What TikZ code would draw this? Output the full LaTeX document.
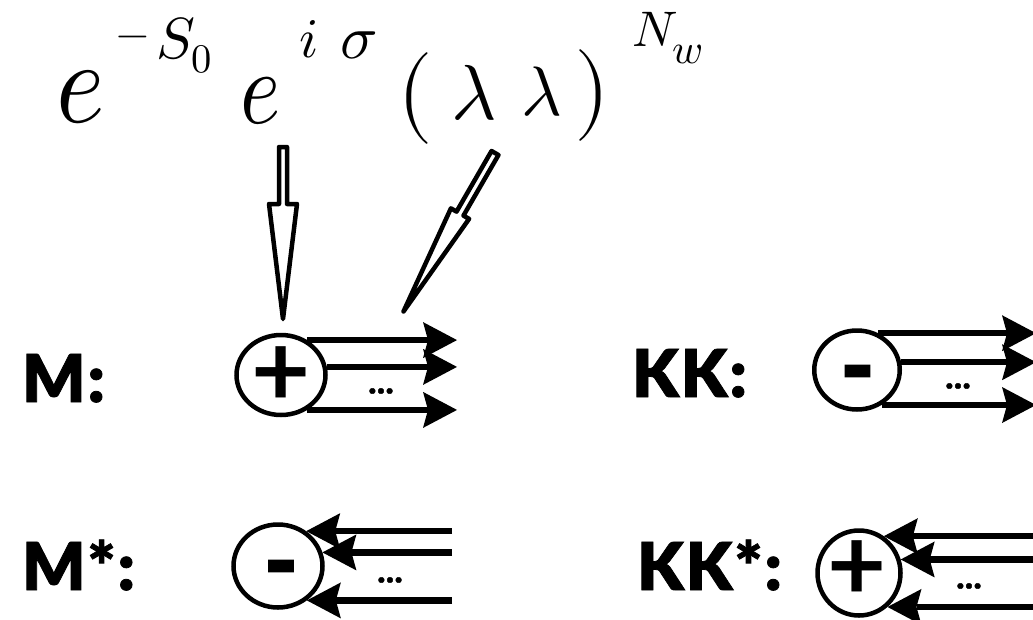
\documentclass[tikz,border=0pt]{standalone}
\usepackage{fontspec}
\usepackage{unicode-math}
\setmathfont{Latin Modern Math}
\usetikzlibrary{arrows.meta,shapes.geometric}
\IfFontExistsTF{Lato Black}{\newfontfamily\labfont{Lato Black}[FakeBold=1.2,LetterSpace=3]}{\newfontfamily\labfont{Lato}[UprightFont={* Bold},FakeBold=1.2,LetterSpace=3]}
\newfontfamily\signfont{Lato}
\tikzset{
  ring/.style={draw, ellipse, line width=4.5pt, inner sep=0pt},
  arr/.style={line width=6.5pt, -{Stealth[length=34pt,width=36pt,inset=5pt,line width=0pt]}},
  hollow/.style={draw, line width=4.5pt, line join=round, fill=white},
  lab/.style={font=\labfont\fontsize{66}{66}\selectfont, anchor=base west, inner sep=0pt},
  plussign/.style={font=\signfont\bfseries\fontsize{102}{102}\selectfont, inner sep=0pt},
  minussign/.style={font=\labfont\fontsize{92}{92}\selectfont, inner sep=0pt, anchor=north},
  dotsign/.style={font=\labfont\fontsize{32}{32}\selectfont, inner sep=0pt},
  hw/.style={inner sep=0pt},
}
\begin{document}
\begin{tikzpicture}[x=1pt,y=-1pt]
\useasboundingbox (0,0) rectangle (1033,619);

% handwritten formula
\node[hw, xscale=0.88, font=\fontsize{118}{118}\selectfont] (e1) at (81,97) {$e$};
\node[hw, font=\fontsize{42}{42}\selectfont] (mn) at (133,42) {$-$};
\node[hw, anchor=base west, font=\fontsize{58}{58}\selectfont] (s0) at (156,58) {$S_0$};
\node[hw, xscale=0.82, font=\fontsize{105}{105}\selectfont] (e2) at (261,101) {$e$};
\node[hw, anchor=base west, font=\fontsize{56}{56}\selectfont] (ii) at (299,57) {$i$};
\node[hw, anchor=base west, font=\fontsize{62}{62}\selectfont] (sg) at (340,58) {$\sigma$};
\node[hw, font=\fontsize{92}{92}\selectfont] (lp) at (415,98) {$($};
\node[hw, font=\fontsize{78}{78}\selectfont] (l1) at (474,93) {$\lambda$};
\node[hw, font=\fontsize{70}{70}\selectfont] (l2) at (542,92) {$\lambda$};
\node[hw, font=\fontsize{92}{92}\selectfont] (rp) at (592,95) {$)$};
\node[hw, font=\fontsize{50}{50}\selectfont] (nn) at (655,29) {$N$};
\node[hw, font=\fontsize{42}{42}\selectfont] (ww) at (688,54) {$w$};

% hollow arrows
\coordinate (va) at (283,147);
\coordinate (da) at (495,153);
\begin{scope}[shift={(va)}, rotate=-90]
  \draw[hollow] (0,-4) -- (57,-4) -- (57,-14) -- (172,0) -- (57,14) -- (57,4) -- (0,4) -- cycle;
\end{scope}
\begin{scope}[shift={(da)}, rotate=-120]
  \draw[hollow] (0,-4) -- (70,-4) -- (70,-10.5) -- (183,0) -- (70,10.5) -- (70,4) -- (0,4) -- cycle;
\end{scope}

% labels
\node[lab] (lM) at (22,402) {M:};
\node[lab] (lKK) at (632,397) {KK:};
\node[lab] (lMs) at (22,590) {M*:};
\node[lab] (lKKs) at (637,590) {KK*:};

% rings
\node[ring, minimum width=89pt, minimum height=80pt] (cM) at (281,375) {};
\node[ring, minimum width=85.5pt, minimum height=79pt] (cK) at (857,370) {};
\node[ring, minimum width=89pt, minimum height=83pt] (cMs) at (278,566) {};
\node[ring, minimum width=83pt, minimum height=85pt] (cKs) at (859,573) {};

% signs
\node[plussign] (sM) at (281,377) {+};
\node[minussign] (sK) at (857.5,365) {-};
\node[minussign] (sMs) at (281,560) {-};
\node[plussign] (sKs) at (857,571) {+};

% outgoing arrows
\coordinate (tM) at (457,0);
\coordinate (tK) at (1036,0);
\draw[arr] (cM.53) -- (cM.53 -| tM);
\draw[arr] (cM.10) -- (cM.10 -| tM);
\draw[arr] (cM.-53) -- (cM.-53 -| tM);
\draw[arr] (cK.60) -- (cK.60 -| tK);
\draw[arr] (cK.10) -- (cK.10 -| tK);
\draw[arr] (cK.-55) -- (cK.-55 -| tK);

% incoming arrows
\coordinate (sMst) at (452,0);
\coordinate (sKst) at (1040,0);
\draw[arr] (cMs.51 -| sMst) -- (cMs.51);
\draw[arr] (cMs.17 -| sMst) -- (cMs.17);
\draw[arr] (cMs.-50 -| sMst) -- (cMs.-50);
\draw[arr] (cKs.56 -| sKst) -- (cKs.56);
\draw[arr] (cKs.18 -| sKst) -- (cKs.18);
\draw[arr] (cKs.-50 -| sKst) -- (cKs.-50);

% dots
\node[dotsign] (dM) at (381,391) {...};
\node[dotsign] (dK) at (958,386) {...};
\node[dotsign] (dMs) at (390,580) {...};
\node[dotsign] (dKs) at (969,586) {...};
\end{tikzpicture}
\end{document}
